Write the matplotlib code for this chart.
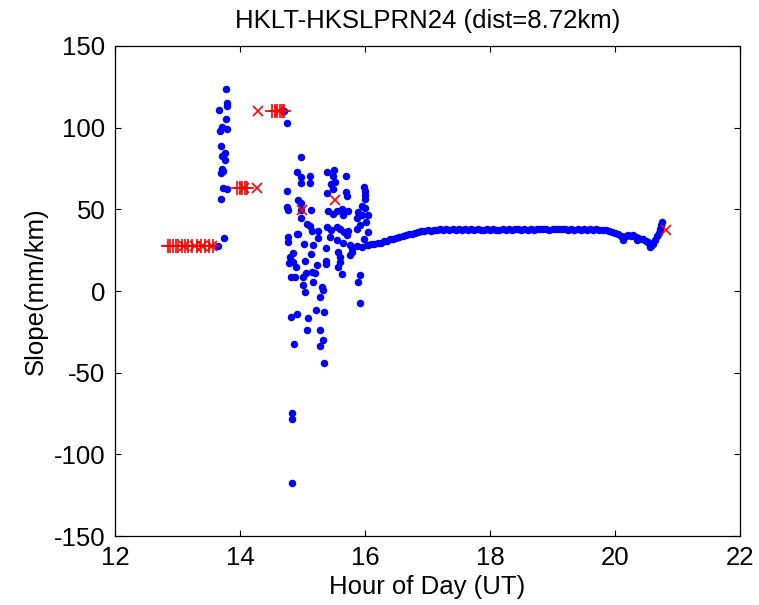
import matplotlib
matplotlib.use("Agg")
import matplotlib.pyplot as plt

plt.rcParams['font.family'] = ['Liberation Sans', 'DejaVu Sans']
plt.rcParams['axes.unicode_minus'] = False

# blue points: scattered part (hour, slope)
scatter_hour = [13.78, 13.79, 13.80, 13.67, 13.78, 13.68, 13.72, 13.80, 13.69, 13.76,
                13.72, 13.76, 13.71, 13.73, 13.70, 13.73, 13.80, 13.69, 13.74, 13.65,
                14.75, 14.71,
                14.976, 14.912, 15.12, 14.976, 14.981, 15.12, 15.387, 15.504, 15.691, 15.493,
                15.451, 15.515, 14.752, 15.392, 15.483, 15.701, 15.717, 14.752, 14.768, 14.933,
                14.971, 14.981, 14.976, 15.136, 15.413, 15.488, 15.547, 15.648, 15.637, 15.733,
                15.067, 15.125, 15.147, 15.253, 15.253, 14.768, 14.773, 14.907, 14.933, 15.392,
                15.456, 15.44, 15.557, 15.60, 15.664, 15.707, 15.733, 15.557, 15.653, 15.76,
                15.797, 15.872, 15.947, 16.027, 15.024, 15.163, 15.371, 14.853, 14.80, 14.853,
                14.789, 14.896, 15.04, 15.136, 15.227, 15.371, 15.371, 15.573, 15.60, 15.60,
                15.573, 15.76, 15.787, 15.627, 14.811, 14.88, 15.013, 15.056, 15.147, 15.20,
                15.173, 15.307, 15.333, 15.28, 15.013, 15.04, 15.216, 15.344, 14.907, 14.816,
                15.093, 15.067, 15.28, 15.323, 15.28, 14.859, 15.344, 14.837, 14.837, 14.837,
                15.99, 16.00, 16.00, 15.995, 15.95, 15.89, 15.87, 15.95, 16.04, 16.00,
                15.92, 15.87, 16.04, 15.92, 15.89, 15.92, 15.98, 16.02]
scatter_slope = [123.9, 114.9, 113.5, 110.6, 105.3, 98.2, 100.2, 99.2, 88.6, 84.3,
                 82.7, 80.0, 74.5, 73.3, 72.1, 63.1, 62.5, 56.3, 32.5, 27.6,
                 102.7, 110.4,
                 81.9, 72.9, 70.4, 69.6, 65.9, 65.9, 72.9, 73.9, 70.4, 70.6,
                 65.5, 66.8, 61.5, 60.2, 62.3, 60.6, 58.2, 51.7, 49.6, 55.5,
                 54.1, 49.6, 44.9, 49.4, 49.0, 47.4, 49.0, 46.4, 50.0, 49.0,
                 41.3, 39.8, 37.0, 37.0, 32.3, 33.3, 29.8, 34.9, 34.7, 39.4,
                 37.4, 33.1, 39.4, 37.8, 35.9, 34.3, 36.8, 31.3, 29.2, 28.2,
                 26.6, 27.8, 26.8, 28.2, 28.8, 28.0, 26.2, 23.5, 21.0, 18.0,
                 17.4, 14.5, 18.6, 22.7, 15.9, 18.4, 16.6, 24.1, 20.6, 18.0,
                 14.9, 22.1, 24.1, 10.4, 8.8, 8.8, 8.8, 10.8, 11.9, 10.8,
                 5.7, 2.7, 0.6, -3.4, 3.7, -0.4, -11.6, -12.6, -14.1, -16.1,
                 -16.7, -23.8, -23.8, -30.0, -33.6, -32.4, -43.8, -74.9, -78.5, -117.7,
                 63.5, 61.5, 58.8, 56.2, 52.1, 48.6, 44.5, 46.6, 46.6, 50.6,
                 40.4, 37.8, 36.2, 9.6, 5.3, -7.1, 32.0, 42.0]

# blue points: steady part after 16 UT
steady_hour = [16.05, 16.10, 16.15, 16.20, 16.25, 16.30, 16.35, 16.40, 16.45, 16.50,
               16.55, 16.60, 16.65, 16.70, 16.75, 16.80, 16.85, 16.90, 16.95, 17.00,
               17.05, 17.10, 17.15, 17.20, 17.25, 17.30, 17.35, 17.40, 17.45, 17.50,
               17.55, 17.60, 17.65, 17.70, 17.75, 17.80, 17.85, 17.90, 17.95, 18.00,
               18.05, 18.10, 18.15, 18.20, 18.25, 18.30, 18.35, 18.40, 18.45, 18.50,
               18.55, 18.60, 18.65, 18.70, 18.75, 18.80, 18.85, 18.90, 18.95, 19.00,
               19.05, 19.10, 19.15, 19.20, 19.25, 19.30, 19.35, 19.40, 19.45, 19.50,
               19.55, 19.60, 19.65, 19.70, 19.75, 19.80, 19.85, 19.90, 19.95, 20.00,
               20.05, 20.10, 20.13, 20.17, 20.21, 20.25, 20.29, 20.33, 20.37, 20.41,
               20.45, 20.49, 20.52, 20.55, 20.58, 20.61, 20.64, 20.67, 20.70, 20.72,
               20.74, 20.75, 20.12, 20.35, 20.56]
steady_slope = [28.2, 28.7, 28.5, 29.4, 29.6, 30.5, 30.8, 31.6, 32.0, 32.7,
                33.2, 33.9, 34.3, 35.0, 35.2, 35.8, 36.0, 36.6, 36.7, 37.1,
                37.0, 37.5, 37.3, 37.8, 37.4, 37.9, 37.6, 38.1, 37.5, 37.8,
                37.4, 38.0, 37.6, 37.9, 37.3, 37.8, 37.5, 37.2, 37.7, 37.4,
                37.9, 37.3, 37.6, 38.0, 37.5, 37.8, 37.2, 37.7, 37.9, 37.4,
                37.8, 37.5, 38.1, 37.6, 37.9, 38.2, 37.7, 38.0, 37.6, 38.2,
                37.8, 38.1, 37.7, 38.0, 37.5, 37.9, 37.6, 38.0, 37.4, 37.8,
                37.3, 37.7, 37.4, 37.9, 37.2, 37.6, 37.1, 37.0, 36.4, 35.6,
                34.8, 33.6, 32.8, 33.5, 34.2, 33.9, 34.4, 33.3, 32.7, 32.1,
                31.6, 30.8, 30.0, 29.2, 27.8, 28.9, 31.5, 33.4, 35.5, 38.0,
                40.5, 42.0, 31.0, 31.5, 27.0]

# red '+' flags
plus_hour = [12.85, 12.88, 12.93, 12.97, 13.01, 13.07, 13.12, 13.17, 13.24, 13.31,
             13.37, 13.44, 13.51, 13.57,
             13.96, 14.00, 14.04, 14.08, 14.12,
             14.51, 14.56, 14.60, 14.64, 14.68, 14.71]
plus_slope = [27.5] * 14 + [62.9] * 5 + [110.2] * 6

# red 'x' flags
cross_hour = [13.10, 13.28, 13.40, 13.55, 14.06, 14.27, 14.29, 14.62, 14.99, 15.52, 20.81]
cross_slope = [27.5, 27.5, 27.5, 27.5, 62.9, 62.9, 110.2, 110.2, 49.6, 55.7, 37.4]

fig = plt.figure(figsize=(7.59, 6.05), dpi=100)
ax = fig.add_axes([0.1515, 0.114, 0.8235, 0.81])

ax.plot(scatter_hour, scatter_slope, 'o', color='b', ms=5.4, mec='none')
ax.plot(steady_hour, steady_slope, 'o', color='b', ms=5.4, mec='none')
ax.plot(plus_hour, plus_slope, '+', color='r', ms=10, mew=1.2)
ax.plot(cross_hour, cross_slope, 'x', color='r', ms=7, mew=1.2)

ax.set_xlim(12, 22)
ax.set_ylim(-150, 150)
ax.set_xticks([12, 14, 16, 18, 20, 22])
ax.set_yticks([-150, -100, -50, 0, 50, 100, 150])
ax.tick_params(direction='in', length=4, width=0.8, top=True, right=True,
               labelsize=18.5, pad=7)
for sp in ax.spines.values():
    sp.set_linewidth(0.9)

ax.set_xlabel('Hour of Day (UT)', fontsize=18.5, labelpad=4)
ax.set_ylabel('Slope(mm/km)', fontsize=18.5, labelpad=4)
ax.set_title('HKLT-HKSLPRN24 (dist=8.72km)', fontsize=18.5, pad=13)

fig.savefig('out.png', dpi=100)
